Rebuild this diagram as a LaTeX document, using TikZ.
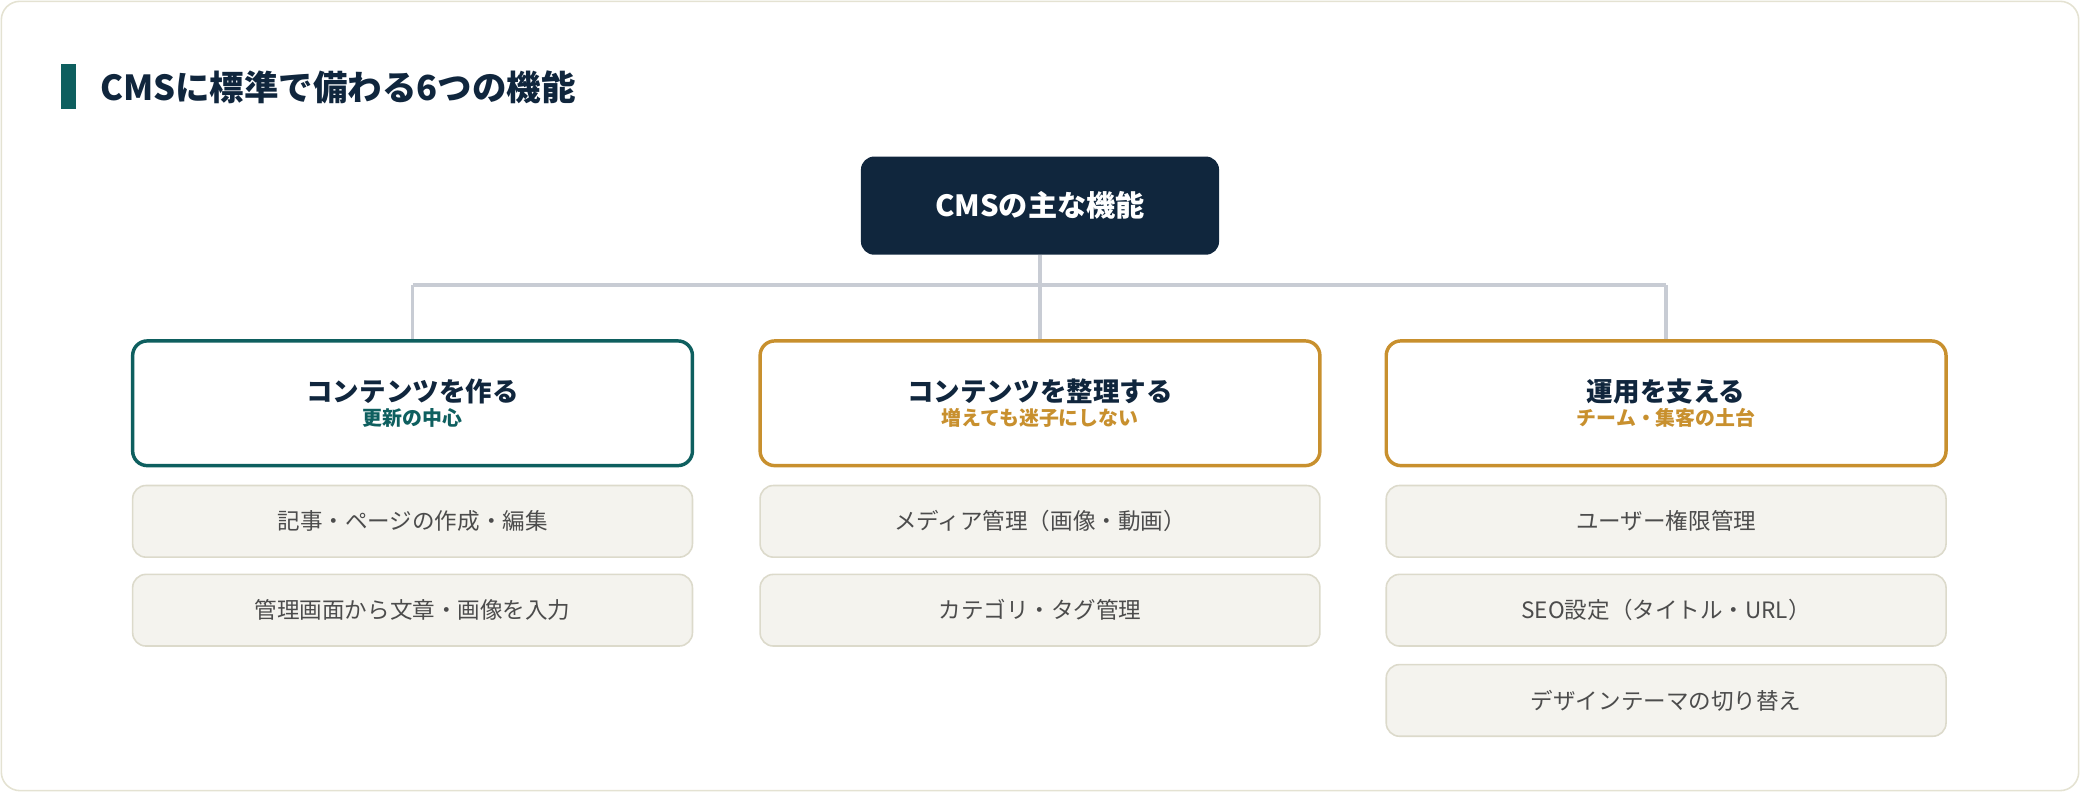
\documentclass[tikz,border=0pt]{standalone}
\usepackage{fontspec}
\setmainfont{Noto Sans CJK JP}
\definecolor{navy}{HTML}{10263D}
\definecolor{teal}{HTML}{0E5F5F}
\definecolor{gold}{HTML}{C8902E}
\definecolor{linegray}{HTML}{C8CCD4}
\definecolor{itemfill}{HTML}{F4F3EE}
\definecolor{itemline}{HTML}{DCDACB}
\definecolor{frame}{HTML}{E4E2D2}
\begin{document}
\begin{tikzpicture}[x=1pt,y=-1pt]

      \tikzset{root/.style={draw=none, fill=navy, rounded corners=10pt, minimum width=270pt, minimum height=74pt, text=white, font=\fontsize{22}{26}\selectfont\bfseries},
               cat/.style={draw=#1, line width=2.6pt, fill=white, rounded corners=11pt, minimum width=422pt, minimum height=94pt, align=center},
               item/.style={draw=itemline, line width=1.2pt, fill=itemfill, rounded corners=10pt, minimum width=422pt, minimum height=54pt, text=black!70, font=\fontsize{17}{20}\selectfont},
               link/.style={draw=linegray, line width=2.6pt}}
      \useasboundingbox (0,0) rectangle (1568,597);
%% Frame and title
      	\draw[frame, line width=1.2pt, rounded corners=14pt] (1,1) rectangle (1567,596);
      	\fill[teal] (46,48) rectangle (57,82);
      	\node[anchor=west, text=navy, font=\fontsize{26}{30}\selectfont\bfseries] (title) at (72,66) {CMSに標準で備わる6つの機能};
%% Root and categories
      	\node[root] (root) at (784,155) {CMSの主な機能};
      	\node[cat=teal] (c1) at (311,304) {{\fontsize{20}{24}\selectfont\bfseries\color{navy}コンテンツを作る}\\[2pt]{\fontsize{15}{18}\selectfont\bfseries\color{teal}更新の中心}};
      	\node[cat=gold] (c2) at (784,304) {{\fontsize{20}{24}\selectfont\bfseries\color{navy}コンテンツを整理する}\\[2pt]{\fontsize{15}{18}\selectfont\bfseries\color{gold}増えても迷子にしない}};
      	\node[cat=gold] (c3) at (1256,304) {{\fontsize{20}{24}\selectfont\bfseries\color{navy}運用を支える}\\[2pt]{\fontsize{15}{18}\selectfont\bfseries\color{gold}チーム・集客の土台}};
%% Items
      	\node[item] (i11) at (311,393) {記事・ページの作成・編集};
      	\node[item] (i12) at (311,460) {管理画面から文章・画像を入力};
      	\node[item] (i21) at (784,393) {メディア管理（画像・動画）};
      	\node[item] (i22) at (784,460) {カテゴリ・タグ管理};
      	\node[item] (i31) at (1256,393) {ユーザー権限管理};
      	\node[item] (i32) at (1256,460) {SEO設定（タイトル・URL）};
      	\node[item] (i33) at (1256,528) {デザインテーマの切り替え};
%Links
      	\coordinate (j1) at (311,215);
      	\coordinate (j3) at (1256,215);
		\path[link] (root.south) -- (c2.north);
		\path[link] (j1) -- (j3);
		\path[link] (j1) -- (c1.north);
		\path[link] (j3) -- (c3.north);

	\end{tikzpicture}
\end{document}
